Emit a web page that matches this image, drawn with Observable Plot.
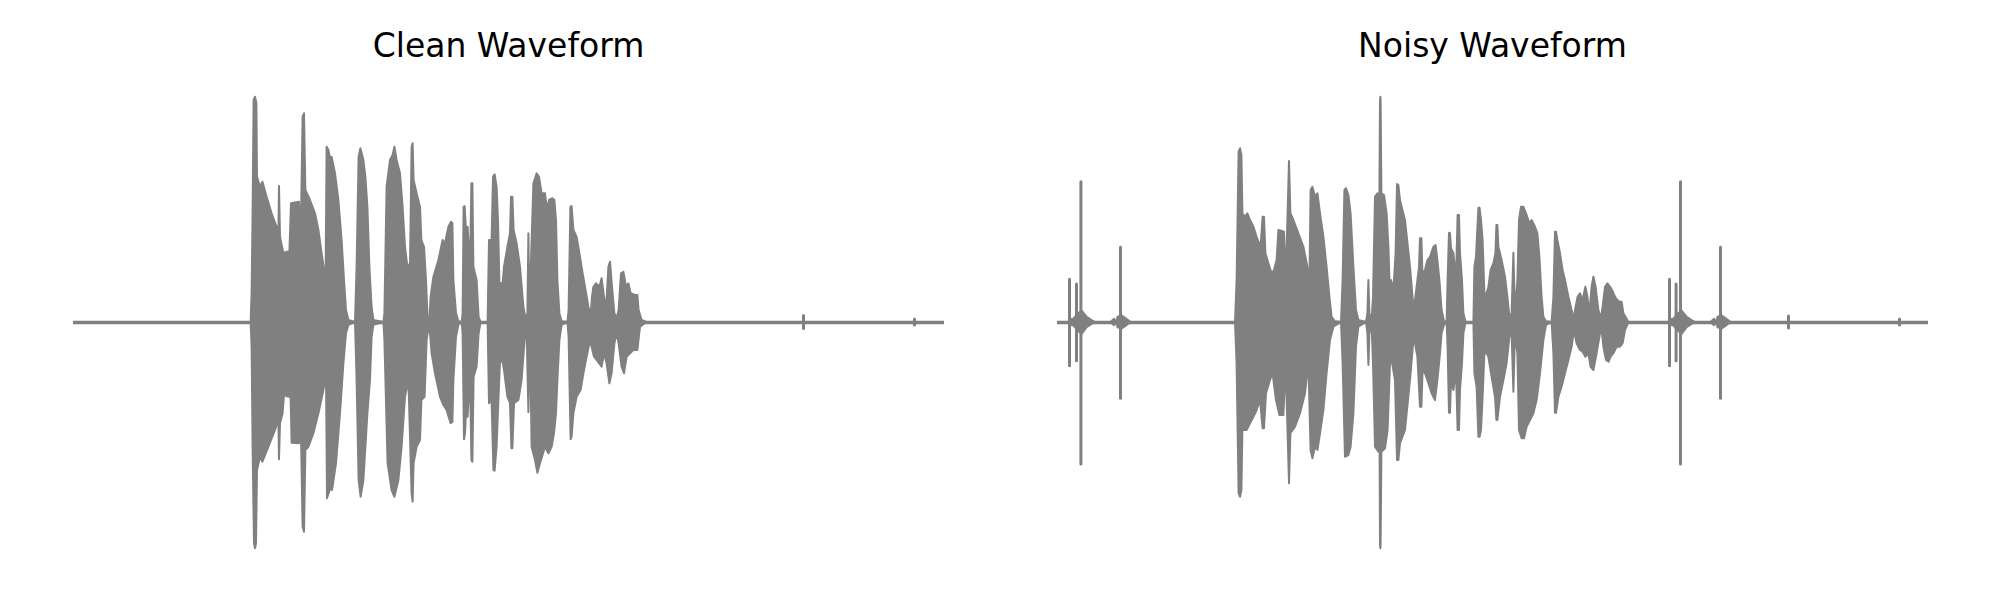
<!DOCTYPE html>
<html>
<head>
<meta charset="utf-8">
<script src="https://cdn.jsdelivr.net/npm/d3@7"></script>
<script src="https://cdn.jsdelivr.net/npm/@observablehq/plot@0.6"></script>
<style>
  body { margin: 0; background: #ffffff; }
  #wrap { position: relative; width: 2000px; height: 600px; overflow: hidden; }
  .panel { position: absolute; top: 0; width: 1000px; }
  .title {
    height: 72px; box-sizing: border-box; padding-top: 27px;
    font-family: "DejaVu Sans", sans-serif; font-size: 33px; line-height: 38px;
    color: #000; text-align: center; white-space: nowrap;
  }
  svg { display: block; }
</style>
</head>
<body>
<div id="wrap">
  <div class="panel" style="left:0px">
    <div class="title" style="margin-left:73px;width:871px">Clean Waveform</div>
    <div id="clean"></div>
  </div>
  <div class="panel" style="left:1000px">
    <div class="title" style="margin-left:57px;width:871px">Noisy Waveform</div>
    <div id="noisy"></div>
  </div>
</div>
<script>
// clip duration (s)
const duration = 4.355;

// ---- Clean waveform envelope: [time (s), amplitude] ----
const cleanUpper = [
[0.888,0],[0.893,0.115],[0.898,0.435],[0.903,0.888],[0.910,0.901],[0.917,0.875],[0.920,0.581],[0.935,0.541],[0.947,0.561],[0.968,0.501],[0.993,0.435],[1.018,0.381],[1.027,0.355],[1.030,0.544],[1.035,0.341],[1.052,0.275],[1.068,0.281],[1.082,0.281],[1.090,0.475],[1.130,0.481],[1.138,0.301],[1.148,0.821],[1.155,0.835],[1.162,0.528],[1.185,0.488],[1.210,0.435],[1.227,0.368],[1.243,0.275],[1.263,0.168],[1.268,0.701],[1.277,0.688],[1.285,0.655],[1.293,0.661],[1.310,0.595],[1.327,0.488],[1.343,0.328],[1.355,0.168],[1.365,0.048],[1.377,0.008],[1.410,0],
[1.418,0.221],[1.428,0.661],[1.437,0.695],[1.452,0.648],[1.462,0.581],[1.472,0.461],[1.482,0.221],[1.493,0.061],[1.502,0.008],[1.552,0],
[1.557,0.035],[1.568,0.541],[1.585,0.648],[1.598,0.668],[1.607,0.701],[1.618,0.648],[1.635,0.595],[1.648,0.461],[1.660,0.301],[1.672,0.221],[1.685,0.235],[1.693,0.701],[1.698,0.715],[1.703,0.568],[1.718,0.515],[1.735,0.461],[1.742,0.328],[1.755,0.301],[1.765,0.168],[1.773,0.015],[1.782,0.008],
[1.788,0.101],[1.802,0.181],[1.827,0.248],[1.848,0.328],[1.860,0.315],[1.877,0.381],[1.890,0.401],[1.897,0.395],[1.902,0.168],[1.915,0.035],[1.927,0.003],[1.943,0],
[1.948,0.035],[1.953,0.461],[1.958,0.464],[1.965,0.368],[1.973,0.381],[1.985,0.208],[1.992,0.555],[1.997,0.555],[2.002,0.221],[2.018,0.168],[2.028,0.021],[2.038,0],[2.073,0],
[2.080,0.328],[2.093,0.328],[2.100,0.581],[2.108,0.591],[2.118,0.541],[2.125,0.408],[2.132,0.155],[2.148,0.155],[2.155,0.221],[2.172,0.301],[2.185,0.355],[2.190,0.501],[2.197,0.501],[2.203,0.368],[2.218,0.315],[2.235,0.221],[2.252,0.061],[2.262,0.015],[2.272,0.035],[2.277,0.355],[2.282,0.035],[2.292,0.301],[2.302,0.555],[2.318,0.595],[2.330,0.581],[2.343,0.515],[2.360,0.515],[2.370,0.448],[2.380,0.488],[2.397,0.495],[2.407,0.488],[2.415,0.408],[2.422,0.168],[2.432,0.035],[2.443,0.003],[2.472,0],
[2.478,0.048],[2.487,0.461],[2.493,0.464],[2.502,0.368],[2.518,0.341],[2.535,0.261],[2.548,0.195],[2.560,0.141],[2.577,0.061],[2.588,0.028],[2.595,0.101],[2.602,0.141],[2.615,0.155],[2.632,0.141],[2.643,0.175],[2.655,0.101],[2.665,0.048],[2.677,0.221],[2.685,0.241],[2.695,0.141],[2.707,0.035],[2.718,0.015],[2.728,0.048],[2.740,0.195],[2.752,0.201],[2.765,0.141],[2.777,0.155],[2.788,0.115],[2.810,0.108],[2.822,0.108],[2.828,0.048],[2.843,0.008],[2.868,0]
];
const cleanLower = [
[0.888,0],[0.893,-0.099],[0.898,-0.499],[0.905,-0.885],[0.910,-0.905],[0.915,-0.885],[0.920,-0.592],[0.935,-0.539],[0.947,-0.559],[0.977,-0.499],[1.010,-0.432],[1.027,-0.392],[1.030,-0.549],[1.035,-0.405],[1.048,-0.365],[1.055,-0.292],[1.077,-0.299],[1.088,-0.299],[1.093,-0.483],[1.130,-0.485],[1.138,-0.365],[1.148,-0.819],[1.155,-0.839],[1.162,-0.512],[1.177,-0.499],[1.202,-0.445],[1.227,-0.365],[1.252,-0.272],[1.265,-0.205],[1.270,-0.705],[1.278,-0.685],[1.288,-0.665],[1.295,-0.672],[1.315,-0.565],[1.335,-0.365],[1.352,-0.165],[1.365,-0.045],[1.377,-0.011],[1.410,0],
[1.418,-0.232],[1.428,-0.632],[1.438,-0.699],[1.452,-0.632],[1.472,-0.365],[1.485,-0.232],[1.493,-0.059],[1.502,-0.011],[1.552,0],
[1.557,-0.072],[1.573,-0.565],[1.593,-0.672],[1.607,-0.699],[1.627,-0.632],[1.643,-0.499],[1.660,-0.299],[1.677,-0.232],[1.693,-0.685],[1.698,-0.719],[1.703,-0.565],[1.718,-0.499],[1.735,-0.472],[1.742,-0.312],[1.758,-0.299],[1.768,-0.072],[1.777,-0.019],
[1.785,-0.045],[1.793,-0.125],[1.810,-0.205],[1.835,-0.299],[1.852,-0.332],[1.868,-0.352],[1.888,-0.405],[1.897,-0.399],[1.902,-0.232],[1.915,-0.059],[1.927,-0.011],[1.943,0],
[1.948,-0.045],[1.955,-0.469],[1.960,-0.445],[1.965,-0.365],[1.973,-0.379],[1.985,-0.205],[1.992,-0.552],[1.997,-0.559],[2.003,-0.219],[2.018,-0.179],[2.028,-0.045],[2.038,0],[2.073,0],
[2.080,-0.325],[2.093,-0.312],[2.102,-0.592],[2.108,-0.595],[2.118,-0.499],[2.127,-0.312],[2.135,-0.159],[2.148,-0.159],[2.155,-0.192],[2.172,-0.299],[2.185,-0.325],[2.192,-0.505],[2.197,-0.505],[2.205,-0.325],[2.227,-0.312],[2.243,-0.232],[2.258,-0.072],[2.268,-0.032],[2.277,-0.361],[2.285,-0.045],[2.293,-0.499],[2.310,-0.552],[2.322,-0.603],[2.335,-0.565],[2.360,-0.499],[2.377,-0.525],[2.393,-0.499],[2.405,-0.445],[2.415,-0.365],[2.422,-0.232],[2.432,-0.072],[2.443,-0.011],[2.472,0],
[2.478,-0.059],[2.488,-0.469],[2.493,-0.459],[2.502,-0.365],[2.518,-0.299],[2.538,-0.272],[2.552,-0.205],[2.568,-0.139],[2.585,-0.072],[2.593,-0.099],[2.605,-0.139],[2.618,-0.152],[2.643,-0.179],[2.655,-0.125],[2.668,-0.165],[2.682,-0.245],[2.693,-0.205],[2.707,-0.085],[2.718,-0.045],[2.728,-0.085],[2.743,-0.179],[2.755,-0.205],[2.768,-0.139],[2.785,-0.125],[2.802,-0.112],[2.822,-0.112],[2.835,-0.019],[2.868,0]
];
// isolated clicks in the clean clip: time, peak, trough
const cleanClickT  = [3.650, 4.205];
const cleanClickHi = [0.026, 0.012];
const cleanClickLo = [-0.026, -0.012];

// ---- Noisy waveform envelope: [time (s), amplitude] ----
const noisyUpper = [
[0.055,0],[0.065,0.012],[0.082,0.013],[0.105,0.035],[0.123,0.045],[0.148,0.021],[0.173,0.008],[0.19,0],
[0.268,0],[0.285,0.013],[0.298,0],[0.302,0.02],[0.322,0.027],[0.335,0.02],[0.36,0.005],[0.37,0],
[0.89,0],[0.898,0.168],[0.908,0.681],[0.915,0.695],[0.922,0.668],[0.927,0.435],[0.940,0.421],[0.952,0.435],[0.965,0.408],[0.982,0.381],[0.998,0.341],[1.018,0.301],[1.028,0.421],[1.035,0.421],[1.042,0.275],[1.057,0.235],[1.073,0.195],[1.085,0.208],[1.098,0.248],[1.107,0.368],[1.135,0.361],[1.143,0.155],[1.153,0.435],[1.160,0.644],[1.167,0.435],[1.182,0.408],[1.207,0.355],[1.232,0.301],[1.252,0.221],[1.262,0.141],[1.268,0.528],[1.277,0.541],[1.290,0.501],[1.302,0.515],[1.315,0.435],[1.332,0.341],[1.348,0.221],[1.362,0.101],[1.373,0.021],[1.39,0.003],[1.42,0],
[1.428,0.168],[1.437,0.528],[1.445,0.535],[1.457,0.508],[1.468,0.435],[1.482,0.221],[1.495,0.048],[1.507,0.008],[1.545,0],
[1.552,0.035],[1.557,0.168],[1.562,0.035],[1.573,0.008],[1.58,0.101],[1.59,0.501],[1.602,0.515],[1.612,0.501],[1.615,0.888],[1.617,0.901],[1.618,0.888],[1.622,0.515],[1.635,0.508],[1.648,0.435],[1.657,0.301],[1.665,0.101],[1.67,0.168],[1.682,0.128],[1.693,0.275],[1.70,0.552],[1.707,0.548],[1.715,0.488],[1.723,0.461],[1.74,0.408],[1.765,0.221],[1.782,0.061],
[1.79,0.088],[1.798,0.141],[1.81,0.221],[1.815,0.335],[1.822,0.335],[1.827,0.195],[1.84,0.208],[1.852,0.248],[1.865,0.261],[1.882,0.301],[1.893,0.308],[1.902,0.248],[1.912,0.168],[1.923,0.048],[1.935,0.003],[1.948,0],
[1.953,0.168],[1.96,0.357],[1.965,0.355],[1.97,0.295],[1.982,0.275],[1.995,0.168],[2.003,0.428],[2.01,0.428],[2.015,0.275],[2.025,0.168],[2.032,0.035],[2.043,0],[2.082,0],
[2.087,0.221],[2.095,0.261],[2.107,0.457],[2.113,0.457],[2.12,0.408],[2.128,0.328],[2.137,0.115],[2.148,0.115],[2.157,0.141],[2.168,0.208],[2.182,0.235],[2.192,0.275],[2.197,0.388],[2.202,0.388],[2.207,0.301],[2.223,0.248],[2.24,0.181],[2.252,0.101],[2.262,0.021],[2.273,0.035],[2.282,0.277],[2.29,0.035],[2.302,0.168],[2.31,0.408],[2.32,0.461],[2.332,0.461],[2.345,0.435],[2.362,0.395],[2.373,0.408],[2.39,0.381],[2.402,0.355],[2.412,0.261],[2.423,0.101],[2.432,0.021],[2.445,0.003],[2.473,0],
[2.482,0.101],[2.49,0.361],[2.495,0.361],[2.502,0.328],[2.515,0.275],[2.528,0.208],[2.54,0.168],[2.557,0.101],[2.573,0.048],[2.585,0.015],[2.593,0.061],[2.603,0.101],[2.615,0.115],[2.628,0.088],[2.642,0.141],[2.652,0.101],[2.662,0.035],[2.673,0.141],[2.682,0.181],[2.693,0.141],[2.707,0.048],[2.72,0.015],[2.728,0.061],[2.74,0.141],[2.752,0.155],[2.765,0.141],[2.775,0.128],[2.79,0.101],[2.802,0.088],[2.812,0.081],[2.823,0.081],[2.832,0.035],[2.857,0],
[3.055,0],[3.065,0.012],[3.082,0.013],[3.105,0.035],[3.123,0.045],[3.148,0.021],[3.173,0.008],[3.19,0],
[3.268,0],[3.285,0.013],[3.298,0],[3.302,0.02],[3.322,0.027],[3.335,0.02],[3.36,0.005],[3.37,0]
];
const noisyLower = [
[0.055,0],[0.065,-0.012],[0.082,-0.013],[0.105,-0.035],[0.123,-0.048],[0.148,-0.021],[0.173,-0.008],[0.19,0],
[0.268,0],[0.285,-0.013],[0.298,0],[0.302,-0.02],[0.322,-0.027],[0.335,-0.02],[0.36,-0.005],[0.37,0],
[0.89,0],[0.898,-0.165],[0.908,-0.685],[0.915,-0.699],[0.922,-0.672],[0.927,-0.432],[0.948,-0.432],[0.965,-0.405],[0.982,-0.379],[0.998,-0.352],[1.015,-0.312],[1.028,-0.425],[1.035,-0.425],[1.045,-0.285],[1.065,-0.232],[1.078,-0.205],[1.095,-0.312],[1.112,-0.372],[1.132,-0.372],[1.143,-0.165],[1.153,-0.445],[1.160,-0.645],[1.167,-0.445],[1.190,-0.419],[1.215,-0.365],[1.240,-0.285],[1.257,-0.165],[1.268,-0.512],[1.277,-0.545],[1.290,-0.499],[1.302,-0.512],[1.315,-0.445],[1.332,-0.352],[1.348,-0.205],[1.365,-0.072],[1.382,-0.019],[1.42,0],
[1.428,-0.165],[1.44,-0.539],[1.457,-0.532],[1.468,-0.499],[1.482,-0.365],[1.495,-0.099],[1.507,-0.019],[1.545,0],
[1.552,-0.045],[1.557,-0.172],[1.562,-0.045],[1.573,-0.011],[1.58,-0.165],[1.59,-0.499],[1.607,-0.519],[1.613,-0.519],[1.615,-0.892],[1.617,-0.905],[1.618,-0.892],[1.622,-0.519],[1.64,-0.505],[1.653,-0.432],[1.665,-0.165],[1.673,-0.152],[1.69,-0.232],[1.70,-0.552],[1.707,-0.552],[1.715,-0.485],[1.74,-0.432],[1.765,-0.232],[1.782,-0.072],
[1.79,-0.085],[1.802,-0.139],[1.815,-0.339],[1.822,-0.339],[1.828,-0.192],[1.84,-0.205],[1.857,-0.245],[1.873,-0.285],[1.89,-0.312],[1.902,-0.232],[1.915,-0.125],[1.923,-0.045],[1.935,-0.011],[1.948,0],
[1.953,-0.099],[1.96,-0.363],[1.965,-0.363],[1.97,-0.232],[1.982,-0.272],[1.995,-0.192],[2.003,-0.432],[2.01,-0.432],[2.015,-0.272],[2.025,-0.165],[2.032,-0.045],[2.043,0],[2.082,0],
[2.087,-0.205],[2.098,-0.259],[2.107,-0.459],[2.113,-0.459],[2.12,-0.432],[2.128,-0.299],[2.137,-0.125],[2.148,-0.125],[2.157,-0.139],[2.173,-0.219],[2.19,-0.299],[2.197,-0.392],[2.202,-0.392],[2.215,-0.299],[2.232,-0.232],[2.248,-0.165],[2.262,-0.059],[2.273,-0.045],[2.282,-0.279],[2.29,-0.045],[2.302,-0.125],[2.31,-0.432],[2.323,-0.465],[2.335,-0.465],[2.348,-0.419],[2.365,-0.392],[2.382,-0.365],[2.398,-0.312],[2.415,-0.205],[2.432,-0.072],[2.445,-0.011],[2.473,0],
[2.482,-0.125],[2.49,-0.363],[2.495,-0.363],[2.507,-0.299],[2.523,-0.259],[2.54,-0.205],[2.557,-0.152],[2.573,-0.099],[2.585,-0.032],[2.598,-0.085],[2.615,-0.112],[2.628,-0.119],[2.642,-0.139],[2.657,-0.125],[2.668,-0.179],[2.682,-0.192],[2.698,-0.125],[2.715,-0.045],[2.723,-0.032],[2.732,-0.099],[2.745,-0.152],[2.758,-0.159],[2.768,-0.139],[2.782,-0.125],[2.798,-0.099],[2.815,-0.099],[2.828,-0.085],[2.84,-0.032],[2.857,0],
[3.055,0],[3.065,-0.012],[3.082,-0.013],[3.105,-0.035],[3.123,-0.048],[3.148,-0.021],[3.173,-0.008],[3.19,0],
[3.268,0],[3.285,-0.013],[3.298,0],[3.302,-0.02],[3.322,-0.027],[3.335,-0.02],[3.36,-0.005],[3.37,0]
];
// isolated noise clicks: time, peak, trough
const noisyClickT  = [0.060, 0.095, 0.117, 0.315, 3.060, 3.093, 3.115, 3.315, 3.655, 4.210];
const noisyClickHi = [0.171, 0.152, 0.561, 0.299, 0.171, 0.152, 0.561, 0.299, 0.024, 0.012];
const noisyClickLo = [-0.175, -0.155, -0.568, -0.305, -0.175, -0.155, -0.568, -0.305, -0.024, -0.012];

const GRAY = "#808080";

function panel(upper, lower, clickT, clickHi, clickLo, mLeft, mRight) {
  const clicks = clickT.map((t, i) => ({t, hi: clickHi[i], lo: clickLo[i]}));
  return Plot.plot({
    width: 1000,
    height: 528,
    marginLeft: mLeft,
    marginRight: mRight,
    marginTop: 0,
    marginBottom: 28,
    x: {domain: [0, duration], axis: null},
    y: {domain: [-1, 1], axis: null},
    style: {background: "#ffffff", overflow: "visible"},
    marks: [
      Plot.ruleY([0], {x1: () => 0, x2: () => duration, stroke: GRAY, strokeWidth: 3.6}),
      Plot.areaY(upper, {x: d => d[0], y1: () => 0, y2: d => d[1], fill: GRAY, stroke: GRAY, strokeWidth: 2, strokeLinejoin: "round"}),
      Plot.areaY(lower, {x: d => d[0], y1: () => 0, y2: d => d[1], fill: GRAY, stroke: GRAY, strokeWidth: 2, strokeLinejoin: "round"}),
      Plot.ruleX(clicks, {x: "t", y1: "lo", y2: "hi", stroke: GRAY, strokeWidth: 3, strokeLinecap: "round"})
    ]
  });
}

document.getElementById("clean").appendChild(
  panel(cleanUpper, cleanLower, cleanClickT, cleanClickHi, cleanClickLo, 73, 56));
document.getElementById("noisy").appendChild(
  panel(noisyUpper, noisyLower, noisyClickT, noisyClickHi, noisyClickLo, 57, 72));
</script>
</body>
</html>
